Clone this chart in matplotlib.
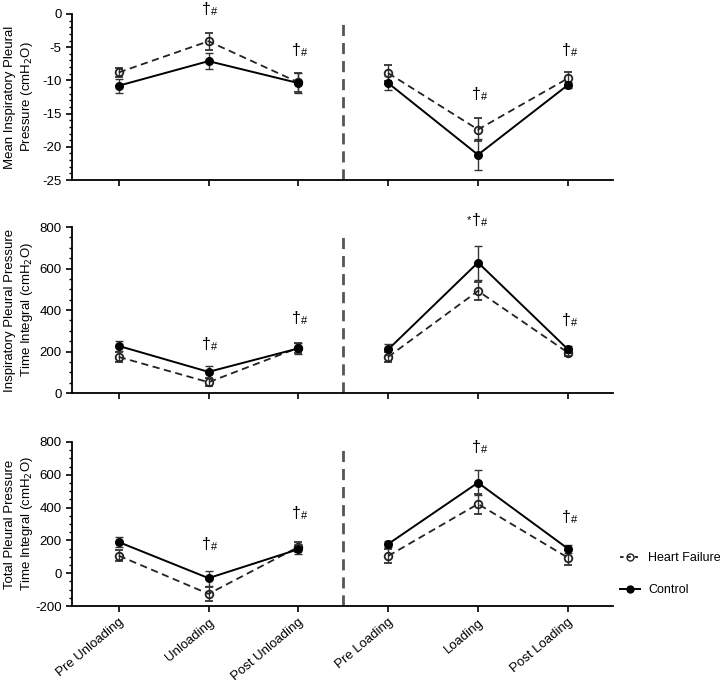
import numpy as np
import matplotlib.pyplot as plt
from matplotlib.ticker import MultipleLocator
from matplotlib.lines import Line2D

plt.rcParams['font.family'] = ['Liberation Sans', 'DejaVu Sans']
plt.rcParams['axes.unicode_minus'] = False

### Data
conditions = ['Pre Unloading', 'Unloading', 'Post Unloading',
              'Pre Loading', 'Loading', 'Post Loading']

# Mean inspiratory pleural pressure (cmH2O)
mip_hf = [-8.8, -4.1, -10.3, -8.9, -17.4, -9.7]
mip_hf_err = [0.7, 1.3, 1.4, 1.15, 1.7, 1.0]
mip_ctl = [-10.8, -7.1, -10.4, -10.4, -21.2, -10.7]
mip_ctl_err = [1.05, 1.2, 1.5, 1.0, 2.3, 0.5]

# Inspiratory pleural pressure time integral
ipti_hf = [174, 52, 218, 174, 492, 195]
ipti_hf_err = [24, 20, 25, 26, 45, 18]
ipti_ctl = [227, 102, 215, 210, 629, 211]
ipti_ctl_err = [23, 30, 25, 27, 82, 18]

# Total pleural pressure time integral
tpti_hf = [107, -126, 160, 105, 422, 95]
tpti_hf_err = [35, 43, 30, 40, 59, 45]
tpti_ctl = [190, -30, 146, 178, 552, 150]
tpti_ctl_err = [32, 45, 30, 20, 77, 24]

# significance marks: (condition index, y position, with asterisk)
marks_mip = [(1, -0.4, False), (2, -6.6, False), (4, -13.3, False), (5, -6.6, False)]
marks_ipti = [(1, 200, False), (2, 322, False), (4, 795, True), (5, 312, False)]
marks_tpti = [(1, 128, False), (2, 318, False), (4, 718, False), (5, 292, False)]

ylabels = ['Mean Inspiratory Pleural\nPressure (cmH$_2$O)',
           'Inspiratory Pleural Pressure\nTime Integral (cmH$_2$O)',
           'Total Pleural Pressure\nTime Integral (cmH$_2$O)']

### Plot settings
textsize = 9.5
x = np.arange(len(conditions))

fig = plt.figure(figsize=[7.2, 6.86], dpi=100)
boxes = [[0.1, 0.7376, 0.751, 0.242],
         [0.1, 0.4271, 0.751, 0.2419],
         [0.1, 0.1166, 0.751, 0.2391]]
panels = [(mip_hf, mip_hf_err, mip_ctl, mip_ctl_err, marks_mip, (-25, 0), 5, 1),
          (ipti_hf, ipti_hf_err, ipti_ctl, ipti_ctl_err, marks_ipti, (0, 800), 200, 50),
          (tpti_hf, tpti_hf_err, tpti_ctl, tpti_ctl_err, marks_tpti, (-200, 800), 200, 50)]

for i, (box, p) in enumerate(zip(boxes, panels)):
    hf, hf_err, ctl, ctl_err, marks, ylim, major, minor = p
    ax = fig.add_axes(box)
    for seg in [slice(0, 3), slice(3, 6)]:
        ax.errorbar(x[seg], np.array(hf)[seg], yerr=np.array(hf_err)[seg],
                    color='#222222', ls=(0, (4, 2.5)), lw=1.3, marker='o', ms=5.5,
                    mfc='none', mec='#222222', mew=1.3, ecolor='#333333',
                    elinewidth=1, capsize=3, zorder=3)
        ax.errorbar(x[seg], np.array(ctl)[seg], yerr=np.array(ctl_err)[seg],
                    color='k', ls='-', lw=1.4, marker='o', ms=5.5,
                    mfc='k', mec='k', ecolor='#333333',
                    elinewidth=1, capsize=3, zorder=4)
    ax.axvline(2.5, ymin=0, ymax=0.95, color='#555555', ls=(0, (4, 2.5)), lw=2)
    for xi, yi, star in marks:
        ax.annotate('†', (xi, yi), xytext=(2, 0), textcoords='offset points',
                    ha='right', va='bottom', fontsize=11.5)
        ax.annotate('#', (xi, yi), xytext=(2, 0), textcoords='offset points',
                    ha='left', va='bottom', fontsize=8)
        if star:
            ax.annotate('*', (xi, yi), xytext=(-5, 2), textcoords='offset points',
                        ha='right', va='bottom', fontsize=8)
    ax.set_xlim(-0.52, 5.5)
    ax.set_ylim(ylim)
    ax.yaxis.set_major_locator(MultipleLocator(major))
    ax.yaxis.set_minor_locator(MultipleLocator(minor))
    ax.set_xticks(x)
    ax.spines['top'].set_visible(False)
    ax.spines['right'].set_visible(False)
    ax.spines['left'].set_linewidth(1.3)
    ax.spines['bottom'].set_linewidth(1.3)
    ax.tick_params(axis='both', which='major', labelsize=textsize, width=1.2, length=4)
    ax.tick_params(axis='y', which='minor', width=1, length=2.5)
    ax.set_ylabel(ylabels[i], fontsize=textsize)
    ax.yaxis.set_label_coords(-0.069, 0.5)
    if i < 2:
        ax.set_xticklabels([])
    else:
        ax.set_xticklabels(conditions, rotation=40, ha='right',
                           rotation_mode='anchor', fontsize=textsize)

handles = [Line2D([], [], color='#222222', ls=(0, (2, 2)), lw=1.3, marker='o', ms=5,
                  mfc='none', mec='#222222'),
           Line2D([], [], color='k', ls='-', lw=1.4, marker='o', ms=5, mfc='k')]
fig.legend(handles, ['Heart Failure', 'Control'], loc='center left',
           bbox_to_anchor=(0.853, 0.163), frameon=False, fontsize=9,
           handlelength=1.6, handletextpad=0.6, borderpad=0, labelspacing=1.6)

plt.savefig('out.png', dpi=100)
